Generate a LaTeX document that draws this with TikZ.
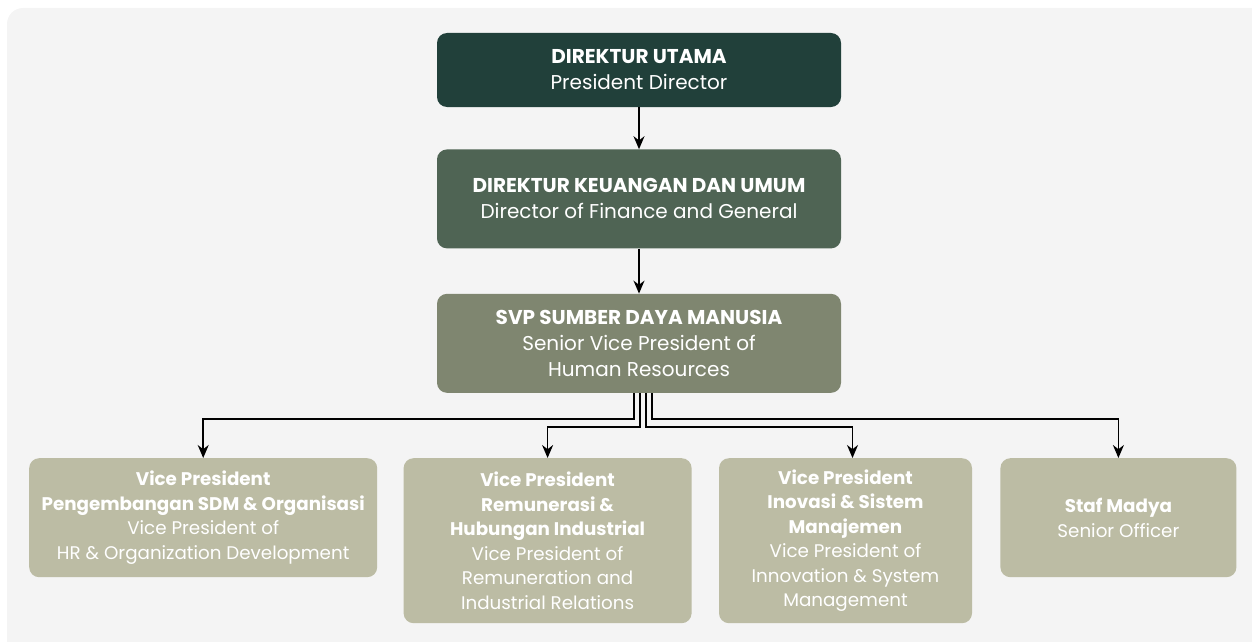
\documentclass[tikz,border=0pt]{standalone}
\usepackage{fontspec}
\setmainfont{Poppins}
\usetikzlibrary{positioning,arrows.meta}

\definecolor{bgGray}{HTML}{F4F4F4}
\definecolor{dirGreen}{HTML}{21403A}
\definecolor{finGreen}{HTML}{4F6454}
\definecolor{svpGreen}{HTML}{7F8670}
\definecolor{vpKhaki}{HTML}{BCBCA4}

\begin{document}
\begin{tikzpicture}[
    box/.style={
        rectangle,
        rounded corners=10pt,
        align=center,
        text=white,
        inner sep=0pt
    },
    headbox/.style={
        box,
        minimum width=404pt,
        font=\fontsize{20}{26}\selectfont
    },
    vpbox/.style={
        box,
        fill=vpKhaki,
        font=\fontsize{18.3}{24.5}\selectfont
    },
    arrow/.style={
        -{Stealth[length=13pt,width=11pt]},
        line width=1.6pt
    },
    node distance=42pt and 27pt
]

\useasboundingbox (0,0) rectangle (1252pt,-642pt);
\clip (0,0) rectangle (1252pt,-642pt);
\fill[bgGray, rounded corners=16pt] (7pt,-8pt) rectangle (1280pt,-680pt);

%% ===== DIREKSI =====
\node[headbox, fill=dirGreen, minimum height=74pt] (dirut) at (639pt,-70pt)
  {\textbf{DIREKTUR UTAMA}\\President Director};

\node[headbox, fill=finGreen, minimum height=99pt, below=42pt of dirut] (dku)
  {\textbf{DIREKTUR KEUANGAN DAN UMUM}\\Director of Finance and General};

\node[headbox, fill=svpGreen, minimum height=99pt, below=45pt of dku] (svp)
  {\textbf{SVP SUMBER DAYA MANUSIA}\\Senior Vice President of\\Human Resources};

\draw[arrow] (dirut) -- (dku);
\draw[arrow] (dku) -- (svp);

%% ===== VICE PRESIDENTS =====
\node[vpbox, anchor=north west, minimum width=348pt, minimum height=119pt]
  (vp1) at (29pt,-458pt) {
  \textbf{Vice President}\\\textbf{Pengembangan SDM \& Organisasi}\\
  Vice President of\\HR \& Organization Development};

\node[vpbox, right=26pt of vp1.north east, anchor=north west,
      minimum width=288pt, minimum height=165pt] (vp2) {
  \textbf{Vice President}\\\textbf{Remunerasi \&}\\\textbf{Hubungan Industrial}\\
  Vice President of\\Remuneration and\\Industrial Relations};

\node[vpbox, right=27pt of vp2.north east, anchor=north west,
      minimum width=253pt, minimum height=165pt] (vp3) {
  \textbf{Vice President}\\\textbf{Inovasi \& Sistem}\\\textbf{Manajemen}\\
  Vice President of\\Innovation \& System\\Management};

\node[vpbox, right=28pt of vp3.north east, anchor=north west,
      minimum width=236pt, minimum height=119pt] (staf) {
  \textbf{Staf Madya}\\Senior Officer};

\draw[arrow] ([xshift=-5pt]svp.south) -- ++(0,-26pt) -| (vp1.north);
\draw[arrow] ([xshift=1pt]svp.south) -- ++(0,-34pt) -| (vp2.north);
\draw[arrow] ([xshift=7pt]svp.south) -- ++(0,-34pt) -| ([xshift=7pt]vp3.north);
\draw[arrow] ([xshift=13pt]svp.south) -- ++(0,-26pt) -| (staf.north);

\end{tikzpicture}
\end{document}
